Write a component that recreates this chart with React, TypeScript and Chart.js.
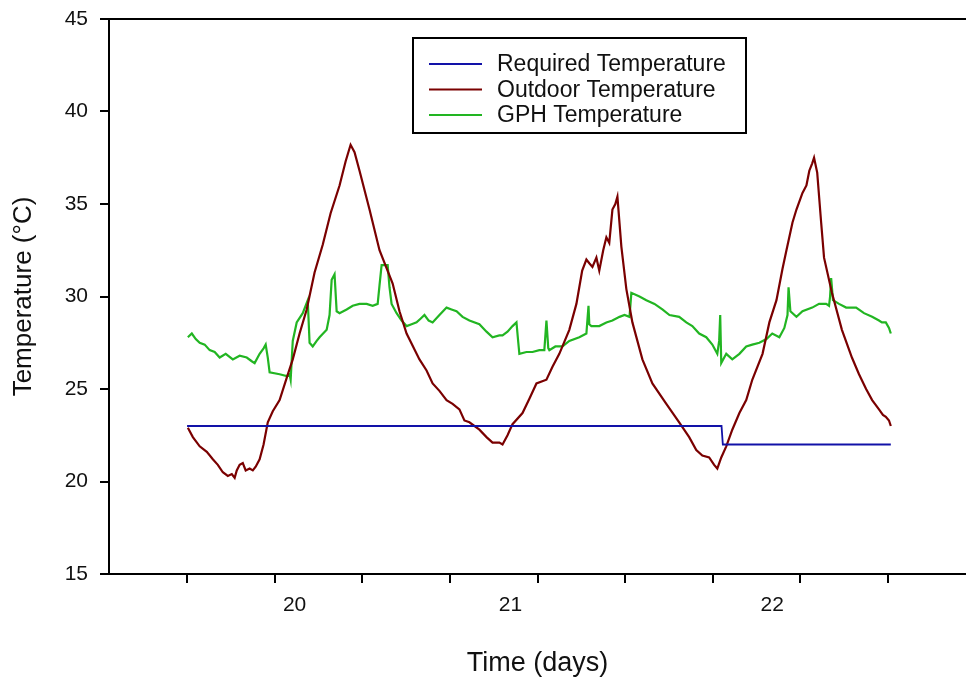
import React, { useEffect, useRef } from 'react';
import { Chart, registerables } from 'chart.js';

Chart.register(...registerables);

// ---- Data (x in days, y in °C) ----
const requiredDays = [19.667, 21.7, 21.705, 22.344];
const requiredTemp = [23, 23, 22, 22];

const outdoorDays = [
  19.670, 19.689, 19.715, 19.742, 19.765, 19.784, 19.803, 19.822, 19.837, 19.848,
  19.856, 19.867, 19.879, 19.890, 19.905, 19.917, 19.928, 19.943, 19.958, 19.974,
  19.993, 20.019, 20.046, 20.069, 20.095, 20.122, 20.152, 20.183, 20.213, 20.247,
  20.270, 20.289, 20.304, 20.323, 20.361, 20.399, 20.449, 20.475, 20.502, 20.551,
  20.578, 20.601, 20.627, 20.654, 20.677, 20.703, 20.722, 20.741, 20.779, 20.806,
  20.829, 20.855, 20.867, 20.886, 20.905, 20.943, 20.970, 20.996, 21.034, 21.057,
  21.083, 21.121, 21.148, 21.170, 21.186, 21.197, 21.209, 21.224, 21.235, 21.250,
  21.262, 21.273, 21.285, 21.296, 21.304, 21.319, 21.338, 21.361, 21.399, 21.437,
  21.490, 21.539, 21.577, 21.604, 21.627, 21.653, 21.672, 21.684, 21.699, 21.718,
  21.741, 21.768, 21.794, 21.817, 21.856, 21.882, 21.909, 21.932, 21.947, 21.970,
  21.985, 22.008, 22.023, 22.034, 22.045, 22.052, 22.064, 22.079, 22.090, 22.120,
  22.158, 22.196, 22.223, 22.250, 22.273, 22.299, 22.314, 22.325, 22.337, 22.344,
];
const outdoorTemp = [
  22.9, 22.4, 21.9, 21.6, 21.2, 20.9, 20.5, 20.3, 20.4, 20.2,
  20.6, 20.9, 21.0, 20.6, 20.7, 20.6, 20.8, 21.2, 22.0, 23.2,
  23.8, 24.4, 25.6, 26.6, 28.0, 29.3, 31.3, 32.8, 34.5, 36.0,
  37.3, 38.2, 37.8, 36.8, 34.7, 32.5, 30.7, 29.2, 28.0, 26.6,
  26.0, 25.3, 24.9, 24.4, 24.2, 23.9, 23.3, 23.2, 22.8, 22.4,
  22.1, 22.1, 22.0, 22.5, 23.1, 23.7, 24.5, 25.3, 25.5, 26.2,
  26.9, 28.2, 29.6, 31.4, 32.0, 31.8, 31.6, 32.1, 31.4, 32.5,
  33.2, 32.9, 34.7, 35.0, 35.4, 32.7, 30.4, 28.6, 26.6, 25.3,
  24.2, 23.2, 22.4, 21.7, 21.4, 21.3, 20.9, 20.7, 21.3, 21.9,
  22.8, 23.7, 24.4, 25.5, 26.9, 28.6, 29.8, 31.5, 32.5, 34.0,
  34.7, 35.6, 36.0, 36.8, 37.2, 37.5, 36.7, 34.0, 32.1, 30.2,
  28.2, 26.7, 25.8, 25.0, 24.4, 23.9, 23.6, 23.5, 23.3, 23.0,
];

const gphDays = [
  19.670, 19.685, 19.700, 19.715, 19.734, 19.753, 19.772, 19.791, 19.814, 19.841,
  19.867, 19.894, 19.913, 19.924, 19.943, 19.958, 19.966, 19.974, 19.981, 20.019,
  20.046, 20.057, 20.061, 20.069, 20.084, 20.107, 20.126, 20.133, 20.145, 20.160,
  20.171, 20.198, 20.209, 20.217, 20.228, 20.236, 20.247, 20.274, 20.297, 20.323,
  20.350, 20.373, 20.392, 20.399, 20.407, 20.430, 20.437, 20.445, 20.464, 20.483,
  20.502, 20.521, 20.540, 20.555, 20.570, 20.586, 20.601, 20.627, 20.654, 20.673,
  20.692, 20.715, 20.741, 20.779, 20.806, 20.829, 20.855, 20.867, 20.886, 20.905,
  20.920, 20.927, 20.931, 20.958, 20.981, 21.007, 21.026, 21.034, 21.041, 21.045,
  21.068, 21.095, 21.121, 21.159, 21.186, 21.194, 21.197, 21.205, 21.235, 21.262,
  21.285, 21.312, 21.331, 21.350, 21.357, 21.388, 21.414, 21.445, 21.475, 21.502,
  21.539, 21.566, 21.589, 21.615, 21.642, 21.665, 21.684, 21.691, 21.695, 21.699,
  21.718, 21.741, 21.768, 21.794, 21.817, 21.844, 21.871, 21.893, 21.920, 21.939,
  21.951, 21.955, 21.962, 21.985, 22.008, 22.045, 22.071, 22.098, 22.109, 22.113,
  22.117, 22.124, 22.147, 22.174, 22.212, 22.242, 22.273, 22.299, 22.310, 22.325,
  22.337, 22.344,
];
const gphTemp = [
  27.8, 28.0, 27.7, 27.5, 27.4, 27.1, 27.0, 26.7, 26.9, 26.6,
  26.8, 26.7, 26.5, 26.4, 26.9, 27.2, 27.4, 26.7, 25.9, 25.8,
  25.7, 25.8, 25.5, 27.6, 28.6, 29.1, 29.8, 27.5, 27.3, 27.6,
  27.8, 28.2, 29.0, 30.9, 31.2, 29.2, 29.1, 29.3, 29.5, 29.6,
  29.6, 29.5, 29.6, 30.6, 31.7, 31.7, 30.5, 29.6, 29.1, 28.7,
  28.4, 28.5, 28.6, 28.8, 29.0, 28.7, 28.6, 29.0, 29.4, 29.3,
  29.2, 28.9, 28.7, 28.5, 28.1, 27.8, 27.9, 27.9, 28.1, 28.4,
  28.6, 27.5, 26.9, 27.0, 27.0, 27.1, 27.1, 28.7, 27.2, 27.1,
  27.3, 27.3, 27.6, 27.8, 28.0, 29.5, 28.5, 28.4, 28.4, 28.6,
  28.7, 28.9, 29.0, 28.9, 30.2, 30.0, 29.8, 29.6, 29.3, 29.0,
  28.9, 28.6, 28.4, 28.0, 27.8, 27.4, 26.9, 27.6, 29.0, 26.4,
  26.9, 26.6, 26.9, 27.3, 27.4, 27.5, 27.7, 28.0, 27.8, 28.3,
  29.0, 30.5, 29.2, 28.9, 29.2, 29.4, 29.6, 29.6, 29.5, 30.0,
  31.0, 29.8, 29.6, 29.4, 29.4, 29.1, 28.9, 28.7, 28.6, 28.6,
  28.3, 28.0,
];

const xTickValues = [19.667, 20, 20.333, 20.667, 21, 21.333, 21.667, 22, 22.333];
const xLabelValues = [20.076, 20.897, 21.893];
const xLabelTexts = ['20', '21', '22'];
const yTickValues = [15, 20, 25, 30, 35, 40, 45];

const seriesLabels = ['Required Temperature', 'Outdoor Temperature', 'GPH Temperature'];
const seriesColors = ['#1212a8', '#7a0000', '#22b522'];

const FONT = '"Liberation Sans", Arial, Helvetica, sans-serif';

const boxLegend = {
  id: 'boxLegend',
  afterDraw(chart: any) {
    const ctx = chart.ctx;
    ctx.save();
    ctx.strokeStyle = '#000';
    ctx.lineWidth = 2;
    ctx.strokeRect(413, 38, 333, 95);
    ctx.font = `23px ${FONT}`;
    ctx.textBaseline = 'middle';
    ctx.textAlign = 'left';
    chart.data.datasets.forEach((ds: any, i: number) => {
      const y = 64 + i * 25.5;
      ctx.strokeStyle = ds.borderColor;
      ctx.lineWidth = 2;
      ctx.beginPath();
      ctx.moveTo(429, y);
      ctx.lineTo(482, y);
      ctx.stroke();
      ctx.fillStyle = '#111';
      ctx.fillText(ds.label, 497, y + 1);
    });
    ctx.restore();
  },
};

function toPoints(xs: number[], ys: number[]) {
  return xs.map((x, i) => ({ x, y: ys[i] }));
}

export default function App() {
  const ref = useRef<HTMLCanvasElement | null>(null);

  useEffect(() => {
    if (!ref.current) return;
    const X_MIN = 19.37;
    const X_MAX = 22.63;
    const chart = new Chart(ref.current, {
      type: 'line',
      data: {
        datasets: [
          { label: seriesLabels[0], data: toPoints(requiredDays, requiredTemp), borderColor: seriesColors[0], borderWidth: 1.8, pointRadius: 0, tension: 0 },
          { label: seriesLabels[1], data: toPoints(outdoorDays, outdoorTemp), borderColor: seriesColors[1], borderWidth: 2.2, pointRadius: 0, tension: 0 },
          { label: seriesLabels[2], data: toPoints(gphDays, gphTemp), borderColor: seriesColors[2], borderWidth: 2.2, pointRadius: 0, tension: 0 },
        ],
      },
      options: {
        responsive: false,
        animation: false,
        layout: { padding: 0 },
        plugins: { legend: { display: false }, tooltip: { enabled: false } },
        scales: {
          x: {
            type: 'linear',
            position: 'bottom',
            min: X_MIN,
            max: X_MAX,
            weight: 0,
            afterBuildTicks: (s: any) => { s.ticks = xTickValues.map((v) => ({ value: v })); },
            ticks: { display: false },
            grid: { drawOnChartArea: false, drawTicks: true, tickLength: 9, color: '#000', lineWidth: 2 },
            border: { display: true, color: '#000', width: 2 },
            afterFit: (s: any) => { s.height = 9; s.paddingLeft = 0; s.paddingRight = 0; },
          },
          xl: {
            type: 'linear',
            position: 'bottom',
            min: X_MIN,
            max: X_MAX,
            weight: 1,
            afterBuildTicks: (s: any) => { s.ticks = xLabelValues.map((v) => ({ value: v })); },
            ticks: {
              autoSkip: false,
              maxRotation: 0,
              padding: 10,
              color: '#111',
              font: { family: FONT, size: 21 },
              callback: (_v: any, i: number) => xLabelTexts[i],
            },
            grid: { display: false, drawTicks: false },
            border: { display: false },
            title: { display: true, text: 'Time (days)', color: '#111', font: { family: FONT, size: 27 }, padding: { top: 0, bottom: 4 } },
            afterFit: (s: any) => { s.height = 101; s.paddingLeft = 0; s.paddingRight = 0; },
          },
          xt: {
            type: 'linear',
            position: 'top',
            min: X_MIN,
            max: X_MAX,
            ticks: { display: false },
            grid: { drawOnChartArea: false, drawTicks: false },
            border: { display: true, color: '#000', width: 2 },
            afterFit: (s: any) => { s.height = 19; s.paddingLeft = 0; s.paddingRight = 0; },
          },
          y: {
            type: 'linear',
            position: 'left',
            min: 15,
            max: 45,
            afterBuildTicks: (s: any) => { s.ticks = yTickValues.map((v) => ({ value: v })); },
            ticks: { color: '#111', padding: 12, font: { family: FONT, size: 21 } },
            grid: { drawOnChartArea: false, drawTicks: true, tickLength: 9, color: '#000', lineWidth: 2 },
            border: { display: true, color: '#000', width: 2 },
            title: { display: true, text: 'Temperature (°C)', color: '#111', font: { family: FONT, size: 26 }, padding: { top: 8, bottom: 0 } },
            afterFit: (s: any) => { s.width = 109; s.paddingTop = 0; s.paddingBottom = 0; },
          },
        },
      } as any,
      plugins: [boxLegend],
    });
    return () => chart.destroy();
  }, []);

  return (
    <div style={{ position: 'fixed', left: 0, top: 0, width: 966, height: 684, background: '#fff' }}>
      <canvas ref={ref} width={966} height={684} style={{ width: 966, height: 684, display: 'block' }} />
    </div>
  );
}
